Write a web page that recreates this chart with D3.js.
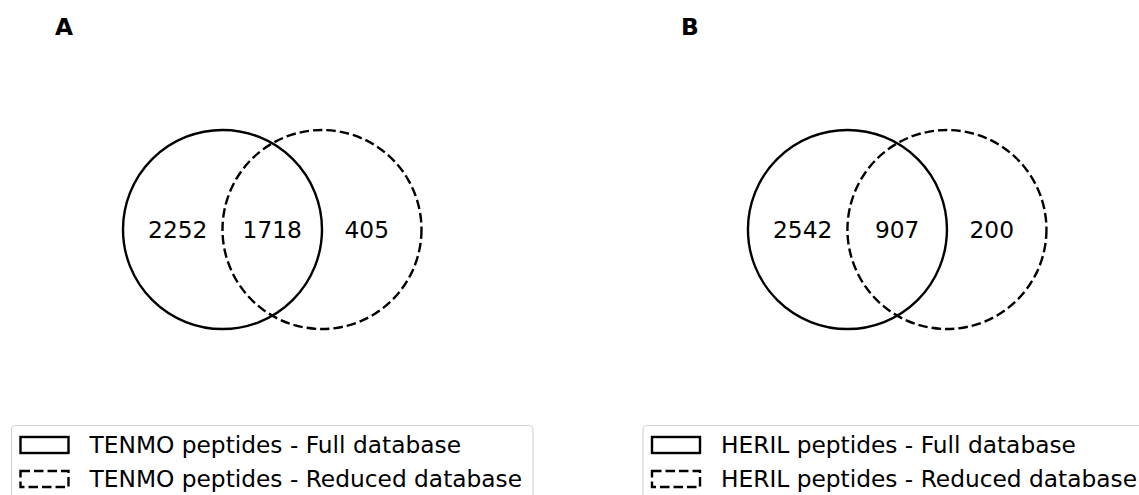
<!DOCTYPE html>
<html>
<head>
<meta charset="utf-8">
<script src="https://cdn.jsdelivr.net/npm/d3@7"></script>
<style>
  html, body { margin: 0; padding: 0; background: #fff; }
  svg { display: block; font-family: "DejaVu Sans", sans-serif; }
</style>
</head>
<body>
<svg id="chart" width="1139" height="495"></svg>
<script>
// Two-set Venn diagrams: peptides identified with the full vs. reduced database
const panelLetters = ["A", "B"];
const species = ["TENMO", "HERIL"];
const onlyFull = [2252, 2542];
const shared = [1718, 907];
const onlyReduced = [405, 200];
const setNames = ["peptides - Full database", "peptides - Reduced database"];
const setDash = [null, "9.5,4"];

const W = 1139, H = 495;
const FONT = 23.3;
const svg = d3.select("#chart");

// Panel geometry in unit space: circles of radius 1, centres one radius apart
const unitCenters = [-0.5, 0.5];
const labelPos = [-0.95, 0, 0.95];
const panelMid = [272.25, 897.2];
const legendLeft = [11.5, 643];
const letterX = [55, 681];
const R = 99.5;

panelLetters.forEach((letter, i) => {
  const x = d3.scaleLinear().domain([-1, 1]).range([panelMid[i] - R, panelMid[i] + R]);
  const y = d3.scaleLinear().domain([-1, 1]).range([229.5 - R, 229.5 + R]);
  const g = svg.append("g");

  g.append("text")
    .attr("x", letterX[i]).attr("y", 35)
    .attr("font-size", FONT).attr("font-weight", "bold")
    .text(letter);

  // circles
  g.selectAll("circle.set")
    .data(unitCenters)
    .join("circle")
    .attr("class", "set")
    .attr("cx", d => x(d))
    .attr("cy", y(0))
    .attr("r", x(1) - x(0))
    .attr("fill", "none")
    .attr("stroke", "#000")
    .attr("stroke-width", 2.4)
    .attr("stroke-dasharray", (d, k) => setDash[k]);

  // region counts
  const counts = [onlyFull[i], shared[i], onlyReduced[i]];
  g.selectAll("text.count")
    .data(counts)
    .join("text")
    .attr("class", "count")
    .attr("x", (d, k) => x(labelPos[k]))
    .attr("y", y(0))
    .attr("dy", "0.36em")
    .attr("text-anchor", "middle")
    .attr("font-size", FONT)
    .text(d => d);

  // legend
  const lx = legendLeft[i];
  g.append("rect")
    .attr("x", lx).attr("y", 425.5)
    .attr("width", 521.5).attr("height", 90)
    .attr("rx", 4).attr("ry", 4)
    .attr("fill", "#fff")
    .attr("stroke", "#d5d5d5").attr("stroke-width", 1.2);

  const rowY = d3.scalePoint().domain([0, 1]).range([445, 479]);
  setNames.forEach((name, k) => {
    const cy = rowY(k);
    g.append("rect")
      .attr("x", lx + 9).attr("y", cy - 8)
      .attr("width", 48).attr("height", 16)
      .attr("fill", "none")
      .attr("stroke", "#000").attr("stroke-width", 2.4)
      .attr("stroke-dasharray", setDash[k]);
    g.append("text")
      .attr("x", lx + 78).attr("y", cy)
      .attr("dy", "0.36em")
      .attr("font-size", FONT)
      .text(species[i] + " " + name);
  });
});
</script>
</body>
</html>
